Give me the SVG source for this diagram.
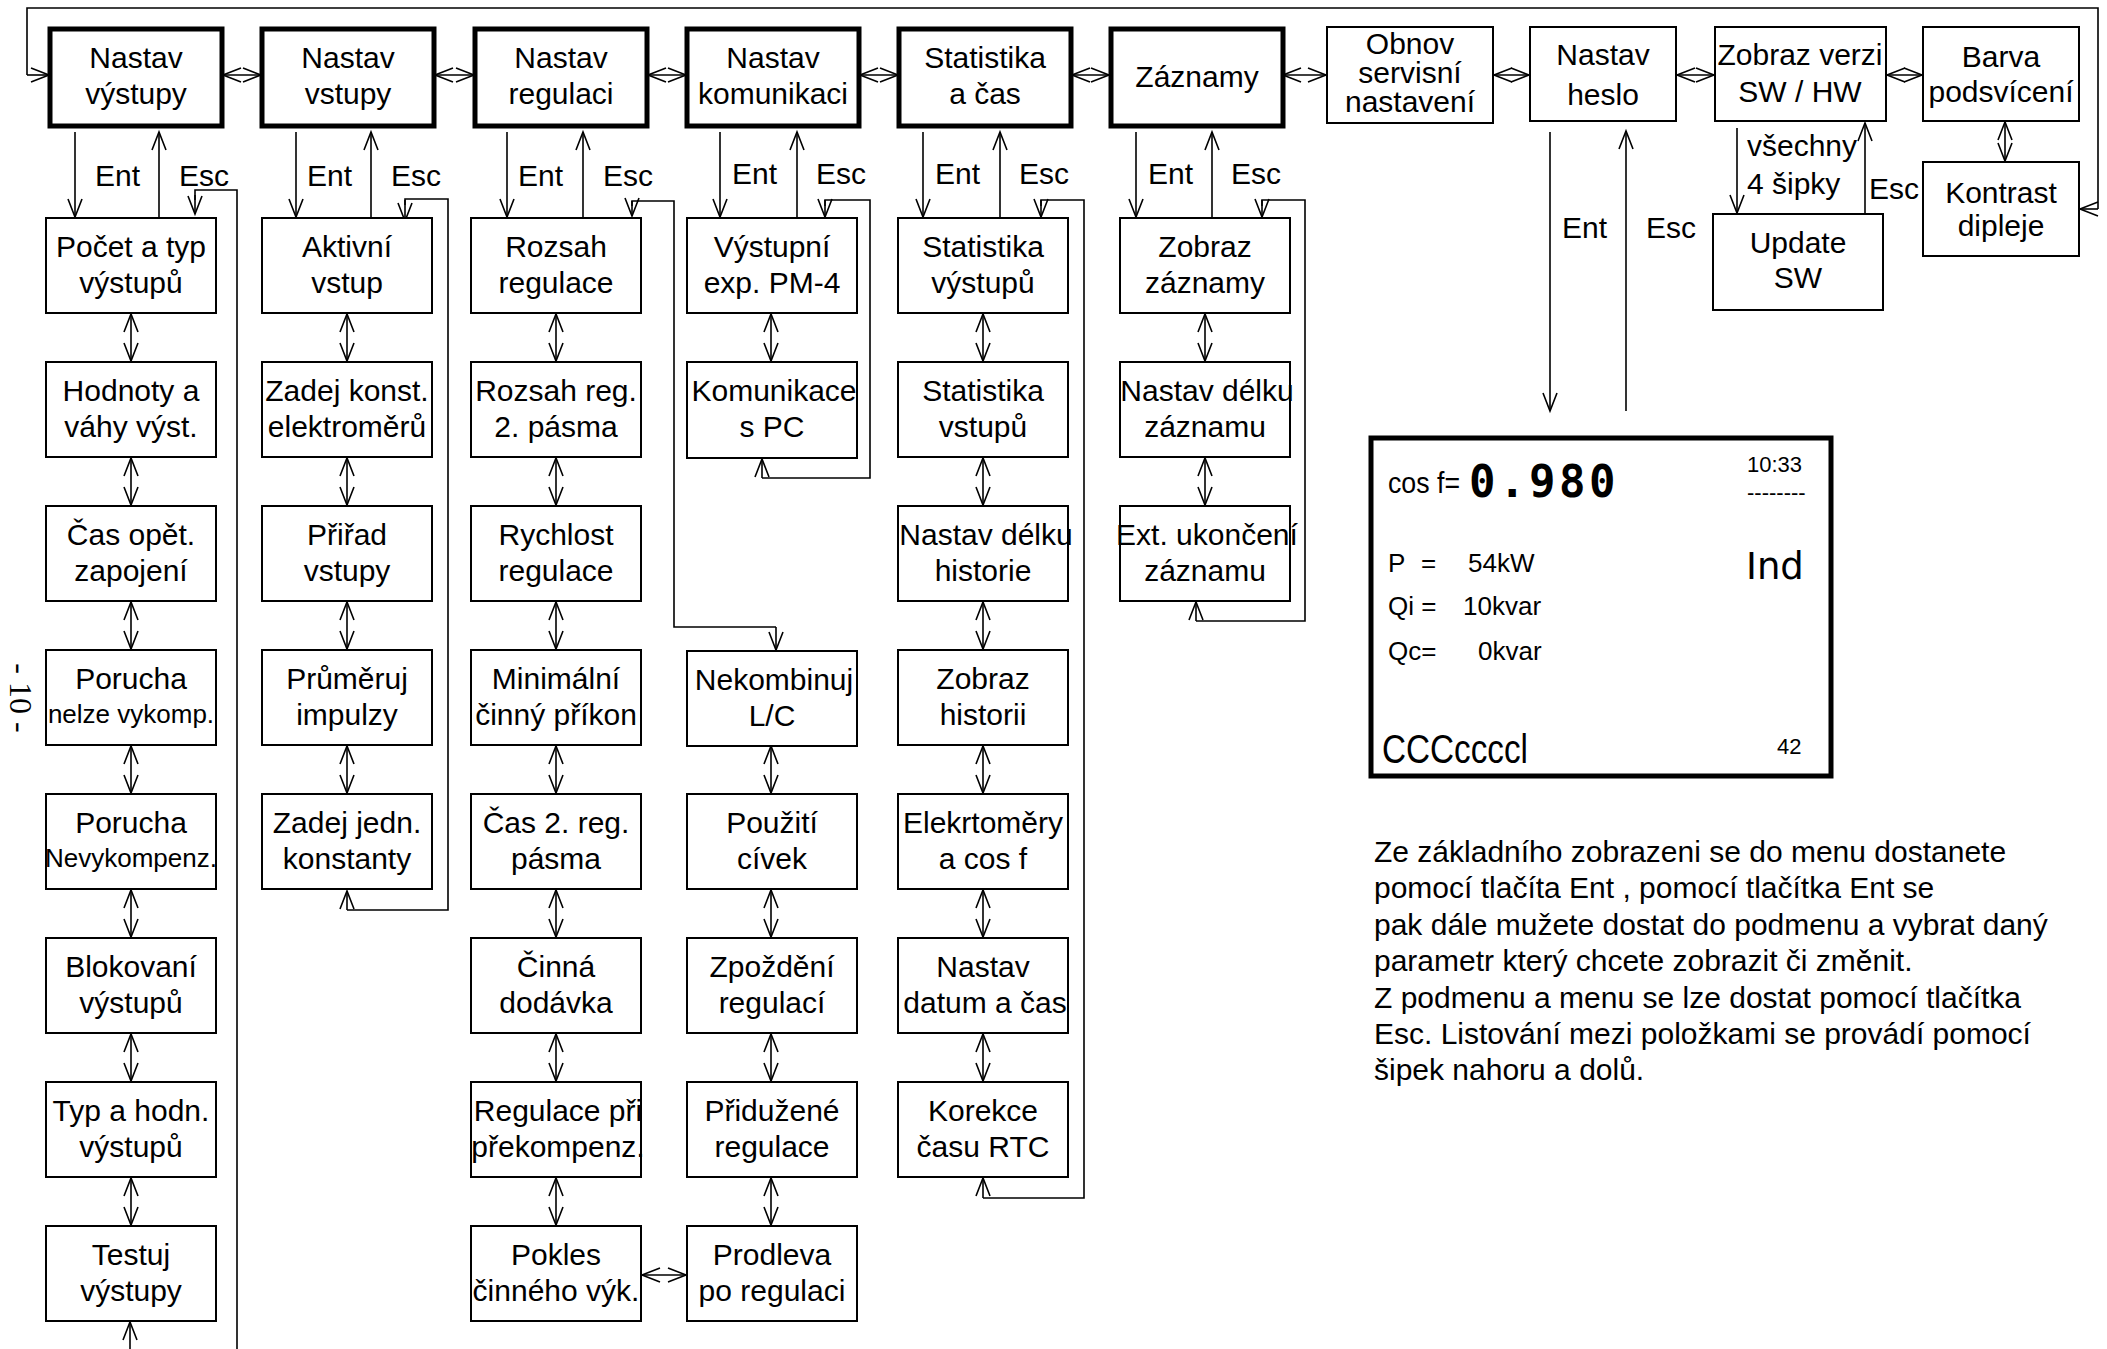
<svg xmlns="http://www.w3.org/2000/svg" width="2107" height="1349" viewBox="0 0 2107 1349">
<defs>
<style>
.tb{fill:#fff;stroke:#000;stroke-width:5}
.bx{fill:#fff;stroke:#000;stroke-width:2}
.ln{fill:none;stroke:#000;stroke-width:1.6}
.a1{fill:none;stroke:#000;stroke-width:1.6;marker-end:url(#ah)}
.a2{fill:none;stroke:#000;stroke-width:1.6;marker-start:url(#ah);marker-end:url(#ah)}
text{font-family:"Liberation Sans",Arial,sans-serif;font-size:30px;fill:#000}
.c{text-anchor:middle}
text.s26{font-size:26px}
text.s22{font-size:22px}
</style>
<marker id="ah" markerUnits="userSpaceOnUse" markerWidth="22" markerHeight="18" refX="19" refY="8" orient="auto-start-reverse" viewBox="0 0 22 18">
<path d="M1,1 L19,8 L1,15" fill="none" stroke="#000" stroke-width="1.6"/>
</marker>
</defs>
<rect width="2107" height="1349" fill="#fff"/>

<g id="connectors">
<!-- outer loop -->
<polyline class="ln" points="27,75 27,8 2098,8 2098,209"/>
<line class="a1" x1="27" y1="75" x2="49" y2="75"/>
<line class="a1" x1="2098" y1="209" x2="2080" y2="209"/>
<!-- top row double arrows -->
<line class="a2" x1="223" y1="75" x2="261" y2="75"/>
<line class="a2" x1="435" y1="75" x2="474" y2="75"/>
<line class="a2" x1="648" y1="75" x2="686" y2="75"/>
<line class="a2" x1="860" y1="75" x2="898" y2="75"/>
<line class="a2" x1="1072" y1="75" x2="1109" y2="75"/>
<line class="a2" x1="1283" y1="75" x2="1326" y2="75"/>
<line class="a2" x1="1494" y1="75" x2="1529" y2="75"/>
<line class="a2" x1="1677" y1="75" x2="1714" y2="75"/>
<line class="a2" x1="1887" y1="75" x2="1922" y2="75"/>
<line class="a2" x1="2005" y1="122" x2="2005" y2="161"/>
<!-- Zobraz verzi / Update SW -->
<line class="a1" x1="1737" y1="128" x2="1737" y2="213"/>
<line class="a1" x1="1865" y1="214" x2="1865" y2="123"/>
<!-- Nastav heslo Ent/Esc -->
<line class="a1" x1="1550" y1="132" x2="1550" y2="411"/>
<line class="a1" x1="1626" y1="411" x2="1626" y2="131"/>

<!-- col1 -->
<line class="a1" x1="75" y1="132" x2="75" y2="217"/>
<line class="a1" x1="159" y1="218" x2="159" y2="132"/>
<polyline class="ln" points="237,1349 237,190 195,190 195,200"/>
<line class="a1" x1="195" y1="195" x2="195" y2="214"/>
<line class="a1" x1="130" y1="1349" x2="130" y2="1322"/>
<!-- col2 -->
<line class="a1" x1="296" y1="132" x2="296" y2="217"/>
<line class="a1" x1="371" y1="218" x2="371" y2="132"/>
<polyline class="ln" points="347,910 448,910 448,199 405,199 405,205"/>
<line class="a1" x1="405" y1="200" x2="405" y2="221"/>
<line class="a1" x1="347" y1="910" x2="347" y2="891"/>
<!-- col3 -->
<line class="a1" x1="507" y1="132" x2="507" y2="217"/>
<line class="a1" x1="583" y1="218" x2="583" y2="132"/>
<polyline class="ln" points="776,627 674,627 674,201 632,201 632,206"/>
<line class="a1" x1="632" y1="201" x2="632" y2="216"/>
<line class="a1" x1="776" y1="627" x2="776" y2="650"/>
<!-- col4 -->
<line class="a1" x1="720" y1="132" x2="720" y2="217"/>
<line class="a1" x1="797" y1="218" x2="797" y2="132"/>
<polyline class="ln" points="762,478 870,478 870,200 825,200 825,206"/>
<line class="a1" x1="825" y1="200" x2="825" y2="217"/>
<line class="a1" x1="762" y1="478" x2="762" y2="459"/>
<!-- col5 -->
<line class="a1" x1="923" y1="132" x2="923" y2="217"/>
<line class="a1" x1="1000" y1="218" x2="1000" y2="132"/>
<polyline class="ln" points="983,1198 1084,1198 1084,200 1041,200 1041,206"/>
<line class="a1" x1="1041" y1="200" x2="1041" y2="217"/>
<line class="a1" x1="983" y1="1198" x2="983" y2="1178"/>
<!-- col6 -->
<line class="a1" x1="1136" y1="132" x2="1136" y2="217"/>
<line class="a1" x1="1212" y1="218" x2="1212" y2="132"/>
<polyline class="ln" points="1196,621 1305,621 1305,200 1262,200 1262,206"/>
<line class="a1" x1="1262" y1="200" x2="1262" y2="217"/>
<line class="a1" x1="1196" y1="621" x2="1196" y2="602"/>

<!-- vertical double arrows col1 -->
<line class="a2" x1="131" y1="314" x2="131" y2="361"/>
<line class="a2" x1="131" y1="458" x2="131" y2="505"/>
<line class="a2" x1="131" y1="602" x2="131" y2="649"/>
<line class="a2" x1="131" y1="746" x2="131" y2="793"/>
<line class="a2" x1="131" y1="890" x2="131" y2="937"/>
<line class="a2" x1="131" y1="1034" x2="131" y2="1081"/>
<line class="a2" x1="131" y1="1178" x2="131" y2="1225"/>
<!-- col2 -->
<line class="a2" x1="347" y1="314" x2="347" y2="361"/>
<line class="a2" x1="347" y1="458" x2="347" y2="505"/>
<line class="a2" x1="347" y1="602" x2="347" y2="649"/>
<line class="a2" x1="347" y1="746" x2="347" y2="793"/>
<!-- col3 -->
<line class="a2" x1="556" y1="314" x2="556" y2="361"/>
<line class="a2" x1="556" y1="458" x2="556" y2="505"/>
<line class="a2" x1="556" y1="602" x2="556" y2="649"/>
<line class="a2" x1="556" y1="746" x2="556" y2="793"/>
<line class="a2" x1="556" y1="890" x2="556" y2="937"/>
<line class="a2" x1="556" y1="1034" x2="556" y2="1081"/>
<line class="a2" x1="556" y1="1178" x2="556" y2="1225"/>
<!-- col4 -->
<line class="a2" x1="771" y1="314" x2="771" y2="361"/>
<line class="a2" x1="771" y1="746" x2="771" y2="793"/>
<line class="a2" x1="771" y1="890" x2="771" y2="937"/>
<line class="a2" x1="771" y1="1034" x2="771" y2="1081"/>
<line class="a2" x1="771" y1="1178" x2="771" y2="1225"/>
<!-- col5 -->
<line class="a2" x1="983" y1="314" x2="983" y2="361"/>
<line class="a2" x1="983" y1="458" x2="983" y2="505"/>
<line class="a2" x1="983" y1="602" x2="983" y2="649"/>
<line class="a2" x1="983" y1="746" x2="983" y2="793"/>
<line class="a2" x1="983" y1="890" x2="983" y2="937"/>
<line class="a2" x1="983" y1="1034" x2="983" y2="1081"/>
<!-- col6 -->
<line class="a2" x1="1205" y1="314" x2="1205" y2="361"/>
<line class="a2" x1="1205" y1="458" x2="1205" y2="505"/>
<!-- Pokles <-> Prodleva -->
<line class="a2" x1="642" y1="1275" x2="686" y2="1275"/>
</g>

<g id="labels">
<text x="95" y="186">Ent</text><text x="179" y="186">Esc</text>
<text x="307" y="186">Ent</text><text x="391" y="186">Esc</text>
<text x="518" y="186">Ent</text><text x="603" y="186">Esc</text>
<text x="732" y="184">Ent</text><text x="816" y="184">Esc</text>
<text x="935" y="184">Ent</text><text x="1019" y="184">Esc</text>
<text x="1148" y="184">Ent</text><text x="1231" y="184">Esc</text>
<text x="1562" y="238">Ent</text><text x="1646" y="238">Esc</text>
<text x="1747" y="156">všechny</text>
<text x="1747" y="194">4 šipky</text>
<text x="1869" y="199">Esc</text>
</g>

<!-- top row -->
<g id="n-nastav-vystupy"><rect class="tb" x="50" y="29" width="172" height="97"/><text class="c" x="136" y="68">Nastav</text><text class="c" x="136" y="104">výstupy</text></g>
<g id="n-nastav-vstupy"><rect class="tb" x="262" y="29" width="172" height="97"/><text class="c" x="348" y="68">Nastav</text><text class="c" x="348" y="104">vstupy</text></g>
<g id="n-nastav-regulaci"><rect class="tb" x="475" y="29" width="172" height="97"/><text class="c" x="561" y="68">Nastav</text><text class="c" x="561" y="104">regulaci</text></g>
<g id="n-nastav-komunikaci"><rect class="tb" x="687" y="29" width="172" height="97"/><text class="c" x="773" y="68">Nastav</text><text class="c" x="773" y="104">komunikaci</text></g>
<g id="n-statistika"><rect class="tb" x="899" y="29" width="172" height="97"/><text class="c" x="985" y="68">Statistika</text><text class="c" x="985" y="104">a čas</text></g>
<g id="n-zaznamy"><rect class="tb" x="1111" y="29" width="172" height="97"/><text class="c" x="1197" y="87">Záznamy</text></g>
<g id="n-obnov"><rect class="bx" x="1327" y="27" width="166" height="96"/><text class="c" x="1410" y="54">Obnov</text><text class="c" x="1410" y="83">servisní</text><text class="c" x="1410" y="112">nastavení</text></g>
<g id="n-heslo"><rect class="bx" x="1530" y="27" width="146" height="94"/><text class="c" x="1603" y="65">Nastav</text><text class="c" x="1603" y="105">heslo</text></g>
<g id="n-verze"><rect class="bx" x="1715" y="27" width="171" height="94"/><text class="c" x="1800" y="65">Zobraz verzi</text><text class="c" x="1800" y="102">SW / HW</text></g>
<g id="n-barva"><rect class="bx" x="1923" y="27" width="156" height="94"/><text class="c" x="2001" y="67">Barva</text><text class="c" x="2001" y="102">podsvícení</text></g>
<g id="n-kontrast"><rect class="bx" x="1923" y="162" width="156" height="94"/><text class="c" x="2001" y="203">Kontrast</text><text class="c" x="2001" y="236">dipleje</text></g>
<g id="n-update"><rect class="bx" x="1713" y="214" width="170" height="96"/><text class="c" x="1798" y="253">Update</text><text class="c" x="1798" y="288">SW</text></g>

<!-- col1 -->
<g id="n-pocet"><rect class="bx" x="46" y="218" width="170" height="95"/><text class="c" x="131" y="257">Počet a typ</text><text class="c" x="131" y="293">výstupů</text></g>
<g id="n-hodnoty"><rect class="bx" x="46" y="362" width="170" height="95"/><text class="c" x="131" y="401">Hodnoty a</text><text class="c" x="131" y="437">váhy výst.</text></g>
<g id="n-cas-opet"><rect class="bx" x="46" y="506" width="170" height="95"/><text class="c" x="131" y="545">Čas opět.</text><text class="c" x="131" y="581">zapojení</text></g>
<g id="n-porucha1"><rect class="bx" x="46" y="650" width="170" height="95"/><text class="c" x="131" y="689">Porucha</text><text class="c s26" x="131" y="723">nelze vykomp.</text></g>
<g id="n-porucha2"><rect class="bx" x="46" y="794" width="170" height="95"/><text class="c" x="131" y="833">Porucha</text><text class="c s26" x="131" y="867">Nevykompenz.</text></g>
<g id="n-blokovani"><rect class="bx" x="46" y="938" width="170" height="95"/><text class="c" x="131" y="977">Blokovaní</text><text class="c" x="131" y="1013">výstupů</text></g>
<g id="n-typ"><rect class="bx" x="46" y="1082" width="170" height="95"/><text class="c" x="131" y="1121">Typ a hodn.</text><text class="c" x="131" y="1157">výstupů</text></g>
<g id="n-testuj"><rect class="bx" x="46" y="1226" width="170" height="95"/><text class="c" x="131" y="1265">Testuj</text><text class="c" x="131" y="1301">výstupy</text></g>

<!-- col2 -->
<g id="n-aktivni"><rect class="bx" x="262" y="218" width="170" height="95"/><text class="c" x="347" y="257">Aktivní</text><text class="c" x="347" y="293">vstup</text></g>
<g id="n-zadej-konst"><rect class="bx" x="262" y="362" width="170" height="95"/><text class="c" x="347" y="401">Zadej konst.</text><text class="c" x="347" y="437">elektroměrů</text></g>
<g id="n-priradvstupy"><rect class="bx" x="262" y="506" width="170" height="95"/><text class="c" x="347" y="545">Přiřad</text><text class="c" x="347" y="581">vstupy</text></g>
<g id="n-prumeruj"><rect class="bx" x="262" y="650" width="170" height="95"/><text class="c" x="347" y="689">Průměruj</text><text class="c" x="347" y="725">impulzy</text></g>
<g id="n-zadej-jedn"><rect class="bx" x="262" y="794" width="170" height="95"/><text class="c" x="347" y="833">Zadej jedn.</text><text class="c" x="347" y="869">konstanty</text></g>

<!-- col3 -->
<g id="n-rozsah"><rect class="bx" x="471" y="218" width="170" height="95"/><text class="c" x="556" y="257">Rozsah</text><text class="c" x="556" y="293">regulace</text></g>
<g id="n-rozsah2"><rect class="bx" x="471" y="362" width="170" height="95"/><text class="c" x="556" y="401">Rozsah reg.</text><text class="c" x="556" y="437">2. pásma</text></g>
<g id="n-rychlost"><rect class="bx" x="471" y="506" width="170" height="95"/><text class="c" x="556" y="545">Rychlost</text><text class="c" x="556" y="581">regulace</text></g>
<g id="n-minimalni"><rect class="bx" x="471" y="650" width="170" height="95"/><text class="c" x="556" y="689">Minimální</text><text class="c" x="556" y="725">činný příkon</text></g>
<g id="n-cas2"><rect class="bx" x="471" y="794" width="170" height="95"/><text class="c" x="556" y="833">Čas 2. reg.</text><text class="c" x="556" y="869">pásma</text></g>
<g id="n-cinna"><rect class="bx" x="471" y="938" width="170" height="95"/><text class="c" x="556" y="977">Činná</text><text class="c" x="556" y="1013">dodávka</text></g>
<g id="n-regulace-pri"><rect class="bx" x="471" y="1082" width="170" height="95"/><text class="c" x="558" y="1121">Regulace při</text><text class="c" x="558" y="1157">překompenz.</text></g>
<g id="n-pokles"><rect class="bx" x="471" y="1226" width="170" height="95"/><text class="c" x="556" y="1265">Pokles</text><text class="c" x="556" y="1301">činného výk.</text></g>

<!-- col4 -->
<g id="n-vystupni"><rect class="bx" x="687" y="218" width="170" height="95"/><text class="c" x="772" y="257">Výstupní</text><text class="c" x="772" y="293">exp. PM-4</text></g>
<g id="n-komunikace"><rect class="bx" x="687" y="362" width="170" height="96"/><text class="c" x="774" y="401">Komunikace</text><text class="c" x="772" y="437">s PC</text></g>
<g id="n-nekombinuj"><rect class="bx" x="687" y="651" width="170" height="95"/><text class="c" x="774" y="690">Nekombinuj</text><text class="c" x="772" y="726">L/C</text></g>
<g id="n-pouziti"><rect class="bx" x="687" y="794" width="170" height="95"/><text class="c" x="772" y="833">Použití</text><text class="c" x="772" y="869">cívek</text></g>
<g id="n-zpozdeni"><rect class="bx" x="687" y="938" width="170" height="95"/><text class="c" x="772" y="977">Zpoždění</text><text class="c" x="772" y="1013">regulací</text></g>
<g id="n-pridruzene"><rect class="bx" x="687" y="1082" width="170" height="95"/><text class="c" x="772" y="1121">Přidužené</text><text class="c" x="772" y="1157">regulace</text></g>
<g id="n-prodleva"><rect class="bx" x="687" y="1226" width="170" height="95"/><text class="c" x="772" y="1265">Prodleva</text><text class="c" x="772" y="1301">po regulaci</text></g>

<!-- col5 -->
<g id="n-stat-vystupu"><rect class="bx" x="898" y="218" width="170" height="95"/><text class="c" x="983" y="257">Statistika</text><text class="c" x="983" y="293">výstupů</text></g>
<g id="n-stat-vstupu"><rect class="bx" x="898" y="362" width="170" height="95"/><text class="c" x="983" y="401">Statistika</text><text class="c" x="983" y="437">vstupů</text></g>
<g id="n-delka-historie"><rect class="bx" x="898" y="506" width="170" height="95"/><text class="c" x="986" y="545">Nastav délku</text><text class="c" x="983" y="581">historie</text></g>
<g id="n-zobraz-historii"><rect class="bx" x="898" y="650" width="170" height="95"/><text class="c" x="983" y="689">Zobraz</text><text class="c" x="983" y="725">historii</text></g>
<g id="n-elektromery"><rect class="bx" x="898" y="794" width="170" height="95"/><text class="c" x="983" y="833">Elekrtoměry</text><text class="c" x="983" y="869">a cos f</text></g>
<g id="n-datum"><rect class="bx" x="898" y="938" width="170" height="95"/><text class="c" x="983" y="977">Nastav</text><text class="c" x="985" y="1013">datum a čas</text></g>
<g id="n-korekce"><rect class="bx" x="898" y="1082" width="170" height="95"/><text class="c" x="983" y="1121">Korekce</text><text class="c" x="983" y="1157">času RTC</text></g>

<!-- col6 -->
<g id="n-zobraz-zaznamy"><rect class="bx" x="1120" y="218" width="170" height="95"/><text class="c" x="1205" y="257">Zobraz</text><text class="c" x="1205" y="293">záznamy</text></g>
<g id="n-delka-zaznamu"><rect class="bx" x="1120" y="362" width="170" height="95"/><text class="c" x="1207" y="401">Nastav délku</text><text class="c" x="1205" y="437">záznamu</text></g>
<g id="n-ext"><rect class="bx" x="1120" y="506" width="170" height="95"/><text class="c" x="1207" y="545">Ext. ukončení</text><text class="c" x="1205" y="581">záznamu</text></g>

<!-- LCD display -->
<g id="display">
<rect x="1371" y="438" width="460" height="338" fill="#fff" stroke="#000" stroke-width="5"/>
<text x="1388" y="493" textLength="72" lengthAdjust="spacingAndGlyphs" style="font-size:30px">cos f=</text>
<text x="1469" y="497" style="font-family:'DejaVu Sans Mono','Liberation Mono',monospace;font-size:44px;font-weight:bold;letter-spacing:3.5px">0.980</text>
<text class="s22" x="1747" y="472">10:33</text>
<text class="s22" x="1747" y="500">--------</text>
<text class="s26" x="1388" y="572">P</text><text class="s26" x="1421" y="572">=</text><text class="s26" x="1468" y="572">54kW</text>
<text class="s26" x="1388" y="615">Qi =</text><text class="s26" x="1463" y="615">10kvar</text>
<text class="s26" x="1388" y="660">Qc=</text><text class="s26" x="1478" y="660">0kvar</text>
<text x="1746" y="579" style="font-family:'DejaVu Sans',sans-serif;font-size:37px">Ind</text>
<text x="1382" y="763" textLength="146" lengthAdjust="spacingAndGlyphs" style="font-size:41px">CCCccccl</text>
<text class="s22" x="1777" y="754">42</text>
</g>

<g id="note">
<text x="1374" y="862">Ze základního zobrazeni se do menu dostanete</text>
<text x="1374" y="898">pomocí tlačíta Ent , pomocí tlačítka Ent se</text>
<text x="1374" y="935">pak dále mužete dostat do podmenu a vybrat daný</text>
<text x="1374" y="971">parametr který chcete zobrazit či změnit.</text>
<text x="1374" y="1008">Z podmenu a menu se lze dostat pomocí tlačítka</text>
<text x="1374" y="1044">Esc. Listování mezi položkami se provádí pomocí</text>
<text x="1374" y="1080">šipek nahoru a dolů.</text>
</g>

<text transform="translate(10,698) rotate(90)" text-anchor="middle" style="font-family:'Liberation Serif',serif;font-size:32px">- 10 -</text>
</svg>
